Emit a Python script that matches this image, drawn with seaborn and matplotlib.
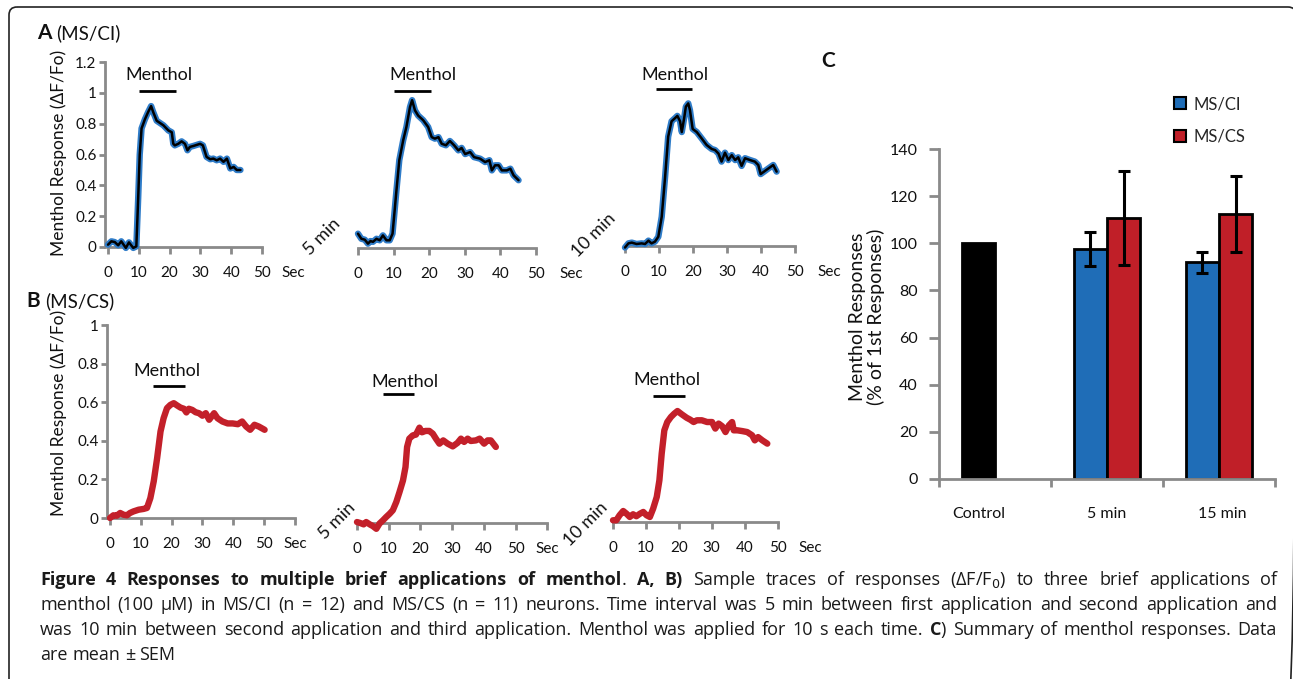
import numpy as np
import pandas as pd
import matplotlib
matplotlib.use("Agg")
import matplotlib.pyplot as plt
import seaborn as sns
from matplotlib.patches import FancyBboxPatch, Patch

# ---------------- data ----------------
a1_t = [0, 1.1, 2.2, 3.3, 4.3, 5.8, 6.8, 8.2, 9.2, 9.8, 10.3, 10.9, 12.0, 13.0, 14.0, 14.7, 15.8, 18.0, 19.6, 20.7,
        21.2, 21.7, 22.8, 23.9, 25.0, 25.8, 26.6, 27.7, 29.9, 30.8, 32.0, 33.2, 34.2, 35.3, 36.4, 37.5, 38.6, 39.7,
        40.8, 41.8, 43.0]
a1_v = [0.015, 0.037, 0.032, 0.011, 0.037, -0.006, 0.03, -0.006, 0.004, 0.316, 0.60, 0.77, 0.83, 0.875, 0.915,
        0.875, 0.82, 0.79, 0.757, 0.745, 0.67, 0.66, 0.67, 0.686, 0.67, 0.628, 0.65, 0.656, 0.67, 0.66, 0.585, 0.57,
        0.574, 0.563, 0.574, 0.553, 0.574, 0.51, 0.52, 0.5, 0.5]

a2_t = [0, 0.94, 1.9, 2.8, 3.5, 4.2, 5.2, 6.1, 7.0, 8.0, 8.9, 9.7, 10.3, 10.8, 11.6, 12.7, 13.6, 14.6, 15.2, 16.0,
        16.9, 18.3, 19.7, 20.7, 21.6, 22.6, 23.5, 24.7, 25.8, 27.0, 28.2, 29.1, 30.1, 31.5, 32.6, 34.3, 35.7, 36.9,
        37.6, 38.5, 39.5, 40.4, 41.8, 42.8, 43.7, 45.1]
a2_v = [0.093, 0.06, 0.054, 0.028, 0.045, 0.04, 0.06, 0.05, 0.082, 0.05, 0.05, 0.093, 0.245, 0.374, 0.57, 0.70,
        0.786, 0.915, 0.96, 0.894, 0.86, 0.83, 0.786, 0.72, 0.71, 0.72, 0.677, 0.667, 0.695, 0.667, 0.634, 0.65,
        0.61, 0.623, 0.59, 0.58, 0.558, 0.57, 0.504, 0.537, 0.537, 0.504, 0.504, 0.515, 0.472, 0.44]

a3_t = [0, 1, 2, 3.4, 4.9, 5.9, 6.9, 7.8, 8.8, 9.8, 10.8, 11.8, 12.7, 13.7, 14.7, 15.4, 16.2, 16.7, 17.4, 17.9,
        18.6, 19.1, 19.9, 21.1, 22.5, 24.0, 25.5, 26.5, 27.5, 28.4, 29.4, 30.4, 31.4, 32.4, 33.3, 34.3, 35.3, 36.8,
        38.2, 39.2, 39.9, 40.9, 42.2, 43.6, 44.6]
a3_v = [-0.01, 0.017, 0.022, 0.013, 0.017, 0.013, 0.035, 0.017, 0.028, 0.06, 0.19, 0.45, 0.71, 0.81, 0.83, 0.845,
        0.81, 0.74, 0.83, 0.905, 0.926, 0.883, 0.76, 0.74, 0.70, 0.656, 0.63, 0.623, 0.60, 0.548, 0.606, 0.558,
        0.59, 0.558, 0.576, 0.52, 0.57, 0.558, 0.548, 0.526, 0.467, 0.483, 0.504, 0.526, 0.483]

b1_t = [0, 1.1, 2.2, 3.3, 4.4, 5.5, 6.5, 7.6, 9.3, 10.9, 12.0, 13.1, 14.2, 15.3, 16.4, 17.4, 18.5, 19.6, 20.7, 21.8,
        22.9, 24.0, 24.8, 25.6, 26.7, 27.8, 28.9, 30.0, 31.1, 32.2, 33.8, 34.9, 36.5, 38.2, 39.8, 41.5, 42.9, 44.2,
        45.5, 46.9, 48.3, 50.2]
b1_v = [0.0, 0.014, 0.012, 0.026, 0.017, 0.014, 0.026, 0.034, 0.043, 0.047, 0.052, 0.103, 0.19, 0.31, 0.448, 0.517,
        0.569, 0.586, 0.595, 0.583, 0.572, 0.566, 0.547, 0.566, 0.56, 0.548, 0.543, 0.53, 0.543, 0.509, 0.543, 0.517,
        0.5, 0.49, 0.49, 0.486, 0.5, 0.474, 0.457, 0.483, 0.474, 0.457]

b2_t = [0, 1, 2.1, 2.9, 4.0, 5.0, 6.1, 7.1, 8.2, 9.2, 10.3, 11.3, 12.4, 13.4, 14.5, 15.3, 15.8, 16.5, 17.6, 18.6,
        19.7, 20.5, 21.6, 22.8, 23.9, 24.9, 26.0, 27.2, 28.6, 30.2, 31.7, 32.8, 33.8, 34.9, 35.9, 37.5, 38.7, 40.1,
        41.2, 42.2, 43.8]
b2_v = [0.005, 0.0, -0.007, 0.005, -0.007, -0.016, -0.03, -0.003, 0.014, 0.031, 0.048, 0.066, 0.109, 0.16, 0.22,
        0.29, 0.394, 0.437, 0.454, 0.458, 0.494, 0.47, 0.477, 0.477, 0.463, 0.437, 0.411, 0.428, 0.411, 0.397, 0.415,
        0.437, 0.42, 0.437, 0.425, 0.428, 0.437, 0.411, 0.428, 0.428, 0.394]

b3_t = [0, 1, 2, 3.1, 4.1, 5.1, 6.1, 7.1, 8.2, 9.2, 10.2, 11.2, 12.2, 13.3, 14.1, 14.8, 15.6, 16.5, 17.6, 18.6,
        19.6, 20.9, 22.4, 23.5, 24.5, 25.5, 27.0, 28.6, 30.1, 31.1, 32.1, 33.2, 34.2, 35.2, 36.2, 36.7, 37.8, 39.3,
        40.8, 42.3, 43.1, 44.1, 45.4, 46.9]
b3_v = [0.009, 0.009, 0.035, 0.057, 0.043, 0.026, 0.04, 0.03, 0.043, 0.052, 0.035, 0.026, 0.069, 0.13, 0.216,
        0.354, 0.475, 0.518, 0.544, 0.561, 0.575, 0.558, 0.54, 0.53, 0.518, 0.527, 0.527, 0.518, 0.518, 0.484, 0.51,
        0.496, 0.466, 0.50, 0.518, 0.475, 0.475, 0.471, 0.466, 0.449, 0.423, 0.44, 0.423, 0.406]

# menthol application bars: start, end (s), level; label centre (s), level
menthol_bar = {"a1": (10.1, 22.0, 1.013, 16.5, 1.117), "a2": (10.1, 20.4, 1.02, 18.3, 1.123),
               "a3": (9.0, 19.6, 1.02, 14.8, 1.11), "b1": (14.0, 24.2, 0.684, 18.5, 0.762),
               "b2": (8.2, 18.1, 0.668, 15.0, 0.73), "b3": (12.2, 21.9, 0.653, 16.3, 0.736)}

x_ticks = [0, 10, 20, 30, 40, 50, 60]
x_tick_labels = ["0", "10", "20", "30", "40", "50", "Sec"]
a_yticks = [0, 0.2, 0.4, 0.6, 0.8, 1.0, 1.2]
a_ytick_labels = ["0", "0.2", "0.4", "0.6", "0.8", "1", "1.2"]
b_yticks = [0, 0.2, 0.4, 0.6, 0.8, 1.0]
b_ytick_labels = ["0", "0.2", "0.4", "0.6", "0.8", "1"]

c_categories = ["Control", "5 min", "15 min"]
c_groups = ["MS/CI", "MS/CS"]
c_mean_ci = [100.0, 97.5, 92.0]
c_mean_cs = [np.nan, 110.8, 112.5]
c_sem_ci = [0.0, 7.2, 4.5]
c_sem_cs = [np.nan, 20.0, 16.0]
c_yticks = [0, 20, 40, 60, 80, 100, 120, 140]

# ---------------- style ----------------
sns.set_theme(style="white")
CHART_FONT = ["Lato", "DejaVu Sans"]
CAP_FONT = ["Open Sans", "DejaVu Sans"]
plt.rcParams["font.family"] = CHART_FONT
plt.rcParams["mathtext.fontset"] = "dejavusans"

GRAY = "#8a8a8a"
TRACE_BLUE = "#2f7cc8"
TRACE_RED = "#c3202a"
BAR_BLUE = "#1f6db7"
BAR_RED = "#c01f28"
TXT = "#111111"

W, H = 1293, 679
fig = plt.figure(figsize=(W / 100, H / 100), dpi=100)
bg = fig.add_axes([0, 0, 1, 1])
bg.set_xlim(0, W)
bg.set_ylim(H, 0)
bg.axis("off")
bg.set_zorder(-5)

bg.add_patch(FancyBboxPatch((9, 7), 1287, 700, boxstyle="round,pad=0,rounding_size=8",
                            fill=False, ec="#222222", lw=1.2, clip_on=False))


def px_axes(x0, xpu, xlim, y0, ypu, ylim):
    l = x0 + xlim[0] * xpu
    r = x0 + xlim[1] * xpu
    b = y0 - ylim[0] * ypu
    t = y0 - ylim[1] * ypu
    ax = fig.add_axes([l / W, 1 - b / H, (r - l) / W, (b - t) / H])
    ax.set_xlim(*xlim)
    ax.set_ylim(*ylim)
    ax.patch.set_alpha(0)
    return ax


def trace_panel(ax, t, v, kind, key, x_end, yticks=None, ylabels=None, ytop=None):
    if kind == "a":
        sns.lineplot(x=t, y=v, ax=ax, color=TRACE_BLUE, linewidth=4.6, zorder=3, clip_on=False,
                     solid_joinstyle="round", solid_capstyle="round")
        sns.lineplot(x=t, y=v, ax=ax, color="black", linewidth=1.8, zorder=4, clip_on=False,
                     solid_joinstyle="round", solid_capstyle="round")
    else:
        sns.lineplot(x=t, y=v, ax=ax, color=TRACE_RED, linewidth=4.6, zorder=3, clip_on=False,
                     solid_joinstyle="round", solid_capstyle="round")
    s, e, lev, lx, ly = menthol_bar[key]
    ax.hlines(lev, s, e, color="black", lw=2, clip_on=False)
    ax.text(lx, ly, "Menthol", ha="center", va="center", fontsize=13, color=TXT, clip_on=False)
    ax.set_xlabel("")
    ax.set_ylabel("")
    for sp in ["top", "right"]:
        ax.spines[sp].set_visible(False)
    ax.spines["bottom"].set_position(("data", 0))
    ax.spines["bottom"].set_bounds(0, x_end)
    ax.spines["bottom"].set_color(GRAY)
    ax.spines["bottom"].set_linewidth(2)
    ax.set_xticks(x_ticks)
    ax.set_xticklabels(x_tick_labels)
    ax.tick_params(axis="x", direction="out", length=5, width=2, color=GRAY, pad=9,
                   labelsize=11, labelcolor=TXT, bottom=True)
    if x_end < 60:
        ax.xaxis.get_major_ticks()[-1].tick1line.set_visible(False)
    if yticks is not None:
        ax.spines["left"].set_bounds(0, ytop)
        ax.spines["left"].set_color(GRAY)
        ax.spines["left"].set_linewidth(2)
        ax.set_yticks(yticks)
        ax.set_yticklabels(ylabels)
        ax.tick_params(axis="y", direction="out", length=4, width=2, color=GRAY, pad=2,
                       labelsize=11, labelcolor=TXT, left=True)
    else:
        ax.spines["left"].set_visible(False)
        ax.set_yticks([])


axA1 = px_axes(108, 3.08, (-1, 62), 247, 154, (-0.06, 1.26))
trace_panel(axA1, a1_t, a1_v, "a", "a1", 50, a_yticks, a_ytick_labels, 1.2)
axA2 = px_axes(358, 3.56, (-1, 62), 248, 154, (-0.06, 1.26))
trace_panel(axA2, a2_t, a2_v, "a", "a2", 50)
axA3 = px_axes(625, 3.40, (-1, 62), 246, 154, (-0.06, 1.26))
trace_panel(axA3, a3_t, a3_v, "a", "a3", 50)

axB1 = px_axes(110, 3.08, (-1, 62), 518, 193, (-0.05, 1.05))
trace_panel(axB1, b1_t, b1_v, "b", "b1", 60, b_yticks, b_ytick_labels, 1.0)
axB2 = px_axes(357, 3.17, (-1, 62), 523, 193, (-0.05, 1.05))
trace_panel(axB2, b2_t, b2_v, "b", "b2", 60)
axB3 = px_axes(613, 3.29, (-1, 62), 522, 193, (-0.05, 1.05))
trace_panel(axB3, b3_t, b3_v, "b", "b3", 50)

for ax, yc in [(axA1, 153), (axB1, 413)]:
    ax.set_ylabel("Menthol Response (ΔF/Fo)", fontsize=12.5, color=TXT, va="center", ha="center")
    ax.yaxis.set_label_coords(59, yc, transform=bg.transData)

# interval labels
for txt, (x, y) in [("5 min", (322, 237)), ("10 min", (594, 235)), ("5 min", (337, 521)), ("10 min", (586, 524))]:
    bg.text(x, y, txt, rotation=45, ha="center", va="center", fontsize=13, color=TXT,
            rotation_mode="anchor")

# panel titles
bg.text(37, 33, "A", fontsize=15, fontweight="bold", ha="left", va="center", color=TXT)
bg.text(56, 33, "(MS/CI)", fontsize=13.5, ha="left", va="center", color=TXT)
bg.text(26, 301, "B", fontsize=15, fontweight="bold", ha="left", va="center", color=TXT)
bg.text(45, 301, "(MS/CS)", fontsize=13.5, ha="left", va="center", color=TXT)
bg.text(821, 61, "C", fontsize=15, fontweight="bold", ha="left", va="center", color=TXT)

# ---------------- panel C ----------------
axC = px_axes(939 + 0.5 * 112, 112, (-0.5, 2.5), 479, 2.357, (0, 140))
dfC = pd.DataFrame({"time": c_categories * 2,
                    "group": [c_groups[0]] * 3 + [c_groups[1]] * 3,
                    "resp": c_mean_ci + c_mean_cs})
sns.barplot(data=dfC, x="time", y="resp", hue="group", order=c_categories, hue_order=c_groups,
            palette=[BAR_BLUE, BAR_RED], saturation=1, width=0.59, errorbar=None, edgecolor="black",
            linewidth=2, ax=axC, legend=False, zorder=2)
axC.set_xlim(-0.5, 2.5)
axC.set_ylim(0, 140)
err_x, err_y, err_e = [], [], []
control_center = 0.0
for p in axC.patches:
    h = p.get_height()
    if not np.isfinite(h) or h == 0:
        continue
    cx = p.get_x() + p.get_width() / 2
    ci = int(round(cx))
    left_slot = cx < ci
    if ci == 0:
        p.set_facecolor("black")
        p.set_edgecolor("black")
        control_center = cx
        continue
    err_x.append(cx)
    err_y.append(c_mean_ci[ci] if left_slot else c_mean_cs[ci])
    err_e.append(c_sem_ci[ci] if left_slot else c_sem_cs[ci])
axC.errorbar(err_x, err_y, yerr=err_e, fmt="none", ecolor="black", elinewidth=2.2, capsize=4, capthick=2.2,
             zorder=5)
for sp in ["top", "right"]:
    axC.spines[sp].set_visible(False)
for sp in ["left", "bottom"]:
    axC.spines[sp].set_color(GRAY)
    axC.spines[sp].set_linewidth(2)
axC.set_xticks([-0.5, 0.5, 1.5, 2.5])
axC.set_xticklabels([])
axC.set_xticks([control_center, 1.0, 2.03], c_categories, minor=True)
axC.tick_params(axis="x", which="major", direction="out", length=6, width=2, color=GRAY, bottom=True)
axC.tick_params(axis="x", which="minor", length=0, pad=20, labelsize=11.5, labelcolor=TXT, bottom=True)
axC.set_yticks(c_yticks)
axC.set_yticklabels([str(v) for v in c_yticks])
axC.tick_params(axis="y", direction="out", length=7, width=2, color=GRAY, pad=8.5, labelsize=11.5,
                labelcolor=TXT, left=True)
axC.set_xlabel("")
axC.set_ylabel("Menthol Responses\n(% of 1st Responses)", fontsize=14, color=TXT, va="center", ha="center",
               linespacing=1.05)
axC.yaxis.set_label_coords(867, 317, transform=bg.transData)

handles = [Patch(facecolor=BAR_BLUE, edgecolor="black", lw=1.5), Patch(facecolor=BAR_RED, edgecolor="black", lw=1.5)]
fig.legend(handles, c_groups, loc="upper left", bbox_to_anchor=(1174 / W, 1 - 96 / H), frameon=False,
           fontsize=12, handlelength=0.7, handleheight=0.7, handletextpad=0.45, labelspacing=1.0,
           borderpad=0, borderaxespad=0)

# ---------------- caption (justified) ----------------
caption_lines = [
    "**Figure 4 Responses to multiple brief applications of menthol**. **A, B)** Sample traces of responses (ΔF/F$_0$) to three brief applications of",
    "menthol (100 μM) in MS/CI (n = 12) and MS/CS (n = 11) neurons. Time interval was 5 min between first application and second application and",
    "was 10 min between second application and third application. Menthol was applied for 10 s each time. **C**) Summary of menthol responses. Data",
    "are mean ± SEM",
]
cap_baselines = [585, 610, 635, 660]
cap_left, cap_right = 40, 1277
cap_size = 13
renderer = fig.canvas.get_renderer()
bold = False
space_t = bg.text(0, 0, "a a", fontsize=cap_size, family=CAP_FONT)
aa_t = bg.text(0, 0, "aa", fontsize=cap_size, family=CAP_FONT)
space_w = space_t.get_window_extent(renderer).width - aa_t.get_window_extent(renderer).width
space_t.remove()
aa_t.remove()
for li, line in enumerate(caption_lines):
    words = []
    for w in line.split(" "):
        pieces = []
        parts = w.split("**")
        for k, part in enumerate(parts):
            if k > 0:
                bold = not bold
            if part:
                t = bg.text(0, cap_baselines[li], part, fontsize=cap_size, family=CAP_FONT,
                            fontweight="bold" if bold else "normal", ha="left", va="baseline", color="#1a1a1a")
                pieces.append((t, t.get_window_extent(renderer).width))
        words.append(pieces)
    widths = [sum(pw for _, pw in ws) for ws in words]
    if li < len(caption_lines) - 1:
        gap = max((cap_right - cap_left - sum(widths)) / (len(words) - 1), 0.6 * space_w)
    else:
        gap = space_w
    x = cap_left
    for ws, ww in zip(words, widths):
        xx = x
        for t, pw in ws:
            t.set_x(xx)
            xx += pw
        x += ww + gap

fig.savefig("out.png", dpi=100)
